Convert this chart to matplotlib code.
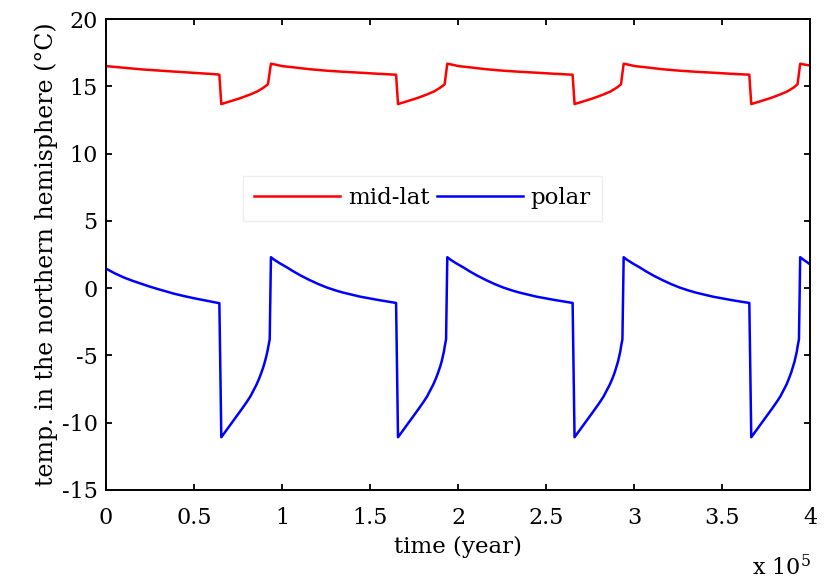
import matplotlib
matplotlib.use("Agg")
import matplotlib.pyplot as plt
from matplotlib.ticker import FuncFormatter, MultipleLocator

plt.rcParams['font.family'] = ['DejaVu Serif']
plt.rcParams['mathtext.fontset'] = 'dejavuserif'

# time in units of 1e5 years, temperatures in deg C
midlat_time = [
    0.000, 0.100, 0.200, 0.288, 0.450, 0.629, 0.644,
    0.655, 0.705, 0.761, 0.815, 0.860, 0.895, 0.920,
    0.937, 0.967, 1.001, 1.064, 1.157, 1.254, 1.347, 1.443, 1.547, 1.648,
    1.659, 1.709, 1.765, 1.819, 1.864, 1.899, 1.924,
    1.939, 1.969, 2.003, 2.066, 2.159, 2.256, 2.349, 2.445, 2.549, 2.651,
    2.662, 2.712, 2.768, 2.822, 2.867, 2.902, 2.926,
    2.941, 2.971, 3.005, 3.068, 3.161, 3.258, 3.351, 3.447, 3.551, 3.655,
    3.666, 3.716, 3.772, 3.826, 3.871, 3.906, 3.929,
    3.944, 3.974, 4.000,
]
midlat_temp = [
    16.50, 16.38, 16.26, 16.18, 16.04, 15.89, 15.86,
    13.68, 13.88, 14.11, 14.37, 14.62, 14.90, 15.15,
    16.68, 16.60, 16.50, 16.41, 16.27, 16.16, 16.08, 16.01, 15.93, 15.86,
    13.68, 13.88, 14.11, 14.37, 14.62, 14.90, 15.15,
    16.68, 16.60, 16.50, 16.41, 16.27, 16.16, 16.08, 16.01, 15.93, 15.86,
    13.68, 13.88, 14.11, 14.37, 14.62, 14.90, 15.15,
    16.68, 16.60, 16.50, 16.41, 16.27, 16.16, 16.08, 16.01, 15.93, 15.86,
    13.68, 13.88, 14.11, 14.37, 14.62, 14.90, 15.15,
    16.68, 16.60, 16.55,
]

polar_time = [
    0.000, 0.050, 0.100, 0.150, 0.193, 0.240, 0.290, 0.340, 0.383, 0.440, 0.500, 0.570, 0.644,
    0.655, 0.677, 0.700, 0.725, 0.750, 0.775, 0.800, 0.820, 0.837, 0.855,
    0.870, 0.883, 0.894, 0.903, 0.910, 0.917, 0.922, 0.927, 0.930,
    0.937, 0.957, 0.987, 1.027, 1.064, 1.107, 1.157, 1.207, 1.254,
    1.307, 1.347, 1.397, 1.443, 1.497, 1.547, 1.597, 1.648,
    1.659, 1.681, 1.704, 1.729, 1.754, 1.779, 1.804, 1.824, 1.841, 1.859,
    1.874, 1.887, 1.898, 1.907, 1.913, 1.920, 1.924, 1.929, 1.932,
    1.939, 1.959, 1.989, 2.029, 2.066, 2.109, 2.159, 2.209, 2.256,
    2.309, 2.349, 2.399, 2.445, 2.499, 2.549, 2.599, 2.651,
    2.662, 2.684, 2.707, 2.732, 2.757, 2.782, 2.807, 2.827, 2.844, 2.862,
    2.877, 2.890, 2.900, 2.909, 2.915, 2.922, 2.926, 2.931, 2.934,
    2.941, 2.961, 2.991, 3.031, 3.068, 3.111, 3.161, 3.211, 3.258,
    3.311, 3.351, 3.401, 3.447, 3.501, 3.551, 3.601, 3.655,
    3.666, 3.688, 3.711, 3.736, 3.761, 3.786, 3.811, 3.831, 3.848, 3.866,
    3.880, 3.893, 3.903, 3.912, 3.918, 3.925, 3.929, 3.934, 3.937,
    3.944, 3.964, 3.984, 4.000,
]
polar_temp = [
    1.45, 1.10, 0.80, 0.55, 0.36, 0.15, -0.05, -0.24, -0.40, -0.58, -0.75, -0.93, -1.12,
    -11.08, -10.68, -10.27, -9.82, -9.37, -8.92, -8.45, -8.05, -7.62, -7.17,
    -6.72, -6.27, -5.85, -5.45, -5.10, -4.70, -4.35, -4.00, -3.80,
    2.30, 2.10, 1.85, 1.55, 1.25, 0.93, 0.60, 0.30, 0.05,
    -0.18, -0.33, -0.49, -0.63, -0.76, -0.88, -0.99, -1.10,
    -11.08, -10.68, -10.27, -9.82, -9.37, -8.92, -8.45, -8.05, -7.62, -7.17,
    -6.72, -6.27, -5.85, -5.45, -5.10, -4.70, -4.35, -4.00, -3.80,
    2.30, 2.10, 1.85, 1.55, 1.25, 0.93, 0.60, 0.30, 0.05,
    -0.18, -0.33, -0.49, -0.63, -0.76, -0.88, -0.99, -1.10,
    -11.08, -10.68, -10.27, -9.82, -9.37, -8.92, -8.45, -8.05, -7.62, -7.17,
    -6.72, -6.27, -5.85, -5.45, -5.10, -4.70, -4.35, -4.00, -3.80,
    2.30, 2.10, 1.85, 1.55, 1.25, 0.93, 0.60, 0.30, 0.05,
    -0.18, -0.33, -0.49, -0.63, -0.76, -0.88, -0.99, -1.10,
    -11.08, -10.68, -10.27, -9.82, -9.37, -8.92, -8.45, -8.05, -7.62, -7.17,
    -6.72, -6.27, -5.85, -5.45, -5.10, -4.70, -4.35, -4.00, -3.80,
    2.30, 2.10, 1.92, 1.76,
]

fig = plt.figure(figsize=(8.27, 5.85), dpi=100)
ax = fig.add_axes([0.1282, 0.1624, 0.8513, 0.8051])

ax.plot(midlat_time, midlat_temp, color='#ff0000', lw=1.8, label='mid-lat')
ax.plot(polar_time, polar_temp, color='#0000ff', lw=1.8, label='polar')

ax.set_xlim(0, 4)
ax.set_ylim(-15, 20)
ax.xaxis.set_major_locator(MultipleLocator(0.5))
ax.yaxis.set_major_locator(MultipleLocator(5))
ax.xaxis.set_major_formatter(FuncFormatter(lambda v, p: f'{v:g}'))
ax.yaxis.set_major_formatter(FuncFormatter(lambda v, p: f'{v:g}'))

ax.tick_params(direction='in', length=4.5, width=1.3, labelsize=16,
               top=True, right=True)
ax.tick_params(axis='x', pad=12)
ax.tick_params(axis='y', pad=6)
for s in ax.spines.values():
    s.set_linewidth(1.4)

ax.set_xlabel('time (year)', fontsize=16.5, labelpad=5)
ax.set_ylabel('temp. in the northern hemisphere (°C)', fontsize=17, labelpad=3)
fig.text(0.98, 0.008, 'x 10$^{5}$', fontsize=16, ha='right', va='bottom')

leg = ax.legend(loc='center', bbox_to_anchor=(0.4496, 0.619), ncol=2,
                fontsize=16.5, handlelength=3.75, handletextpad=0.35,
                columnspacing=0.3, borderpad=0.5, fancybox=False,
                framealpha=1, edgecolor='#eeeeee')
leg.get_frame().set_linewidth(1.0)

fig.savefig('out.png', dpi=100)
